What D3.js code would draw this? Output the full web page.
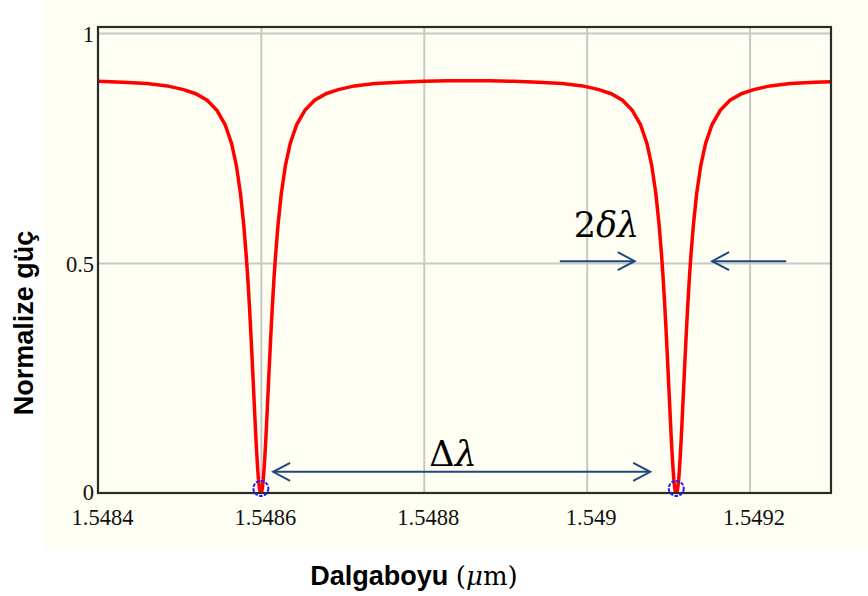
<!DOCTYPE html>
<html><head><meta charset="utf-8">
<script src="https://cdn.jsdelivr.net/npm/d3@7"></script>
<style>body{margin:0;background:#fff}svg{display:block}</style>
</head><body>
<svg id="c" width="868" height="596"></svg>
<script>
const wavelength = [
1.548400,1.548430,1.548460,1.548485,1.548505,1.548520,1.548534,1.548546,1.548556,1.548564,
1.548570,1.548575,1.548579,1.548582,1.548584,1.548586,1.548588,1.548590,1.548592,1.548593,
1.548594,1.548595,1.548596,1.548597,1.548598,1.548599,1.548600,1.548601,1.548602,1.548603,
1.548604,1.548605,1.548606,1.548607,1.548608,1.548610,1.548612,1.548614,1.548616,1.548618,
1.548621,1.548625,1.548630,1.548636,1.548644,1.548654,1.548666,1.548680,1.548695,1.548715,
1.548740,1.548770,1.548800,1.548830,1.548855,1.548880,1.548910,1.548940,1.548970,1.548995,
1.549015,1.549030,1.549044,1.549056,1.549066,1.549074,1.549080,1.549085,1.549089,1.549092,
1.549094,1.549096,1.549098,1.549100,1.549102,1.549103,1.549104,1.549105,1.549106,1.549107,
1.549108,1.549109,1.549110,1.549111,1.549112,1.549113,1.549114,1.549115,1.549116,1.549117,
1.549118,1.549120,1.549122,1.549124,1.549126,1.549128,1.549131,1.549135,1.549140,1.549146,
1.549154,1.549164,1.549176,1.549190,1.549205,1.549225,1.549250,1.549280,1.549300];
const power = [
0.895,0.893,0.890,0.885,0.877,0.868,0.854,0.832,0.801,0.760,
0.711,0.650,0.582,0.516,0.464,0.404,0.336,0.263,0.188,0.151,
0.115,0.083,0.054,0.030,0.013,0.002,0.000,0.002,0.013,0.030,
0.054,0.083,0.115,0.151,0.188,0.263,0.336,0.404,0.464,0.516,
0.582,0.650,0.711,0.760,0.801,0.832,0.854,0.868,0.877,0.885,
0.890,0.893,0.895,0.896,0.896,0.896,0.895,0.893,0.890,0.885,
0.877,0.868,0.854,0.832,0.801,0.760,0.711,0.650,0.582,0.516,
0.464,0.404,0.336,0.263,0.188,0.151,0.115,0.083,0.054,0.030,
0.013,0.002,0.000,0.002,0.013,0.030,0.054,0.083,0.115,0.151,
0.188,0.263,0.336,0.404,0.464,0.516,0.582,0.650,0.711,0.760,
0.801,0.832,0.854,0.868,0.877,0.885,0.890,0.893,0.894];
const xTicks = [1.5484,1.5486,1.5488,1.549,1.5492];
const xTickLabels = ["1.5484","1.5486","1.5488","1.549","1.5492"];
const yTicks = [0,0.5,1];
const yTickLabels = ["0","0.5","1"];
const dipWavelength = [1.5486,1.54911];
const dipPower = [0.01,0.01];

const svg = d3.select("#c");
svg.append("rect").attr("x",45).attr("y",0).attr("width",823).attr("height",551).attr("fill","#fffef2");

const L=98,R=831,T=27,B=493;
const x = d3.scaleLinear().domain([1.5484,1.5493]).range([L,R]);
const y = d3.scaleLinear().domain([0,1]).range([B,33]);

// grid
svg.append("g").attr("transform",`translate(0,${B})`)
  .call(d3.axisBottom(x).tickValues(xTicks.slice(1)).tickSize(-(B-T)).tickFormat(""))
  .call(g=>{g.select(".domain").remove();g.selectAll("line").attr("stroke","#c8c8c8").attr("stroke-width",2);});
svg.append("g").attr("transform",`translate(${L},0)`)
  .call(d3.axisLeft(y).tickValues(yTicks.slice(1)).tickSize(-(R-L)).tickFormat(""))
  .call(g=>{g.select(".domain").remove();g.selectAll("line").attr("stroke","#c8c8c8").attr("stroke-width",2);});

// curve
svg.append("clipPath").attr("id","clip").append("rect").attr("x",L).attr("y",T).attr("width",R-L).attr("height",B-T);
const line = d3.line().x((d,i)=>x(wavelength[i])).y((d,i)=>y(power[i]));
svg.append("path").datum(power).attr("d",line).attr("fill","none").attr("stroke","#ff0000")
  .attr("stroke-width",3.5).attr("stroke-linejoin","miter").attr("clip-path","url(#clip)");

// frame
svg.append("rect").attr("x",L).attr("y",T).attr("width",R-L).attr("height",B-T)
  .attr("fill","none").attr("stroke","#2b2b2b").attr("stroke-width",2.2);

// dip markers
svg.selectAll("circle.dip").data(dipWavelength).join("circle").attr("class","dip")
  .attr("cx",d=>x(d)).attr("cy",(d,i)=>y(dipPower[i])).attr("r",7.5)
  .attr("fill","none").attr("stroke","#1a1aff").attr("stroke-width",2).attr("stroke-dasharray","3.5,1.5");

// tick labels
const tickFont = "'Liberation Serif','Times New Roman',serif";
const mathFont = "'DejaVu Serif',serif";
svg.append("g").attr("transform",`translate(0,${B})`)
  .call(d3.axisBottom(x).tickValues(xTicks).tickSize(0).tickFormat((d,i)=>xTickLabels[i]))
  .call(g=>{g.select(".domain").remove();
    g.selectAll("text").attr("y",16).attr("dx",4).attr("font-family",tickFont).attr("font-size",22.5).attr("fill","#111");});
svg.append("g").attr("transform",`translate(${L},0)`)
  .call(d3.axisLeft(y).tickValues(yTicks).tickSize(0).tickFormat((d,i)=>yTickLabels[i]))
  .call(g=>{g.select(".domain").remove();
    g.selectAll("text").attr("x",-4).attr("y",(d)=>d===0?-1:1).attr("font-family",tickFont).attr("font-size",22.5).attr("fill","#111");});

// axis titles
svg.append("text").attr("transform","translate(33,323) rotate(-90)").attr("text-anchor","middle")
  .attr("font-family","'Liberation Sans',Arial,sans-serif").attr("font-weight","bold").attr("font-size",27)
  .attr("fill","#000").text("Normalize güç");
const xt = svg.append("text").attr("x",414).attr("y",585).attr("text-anchor","middle")
  .attr("font-family","'Liberation Sans',Arial,sans-serif").attr("font-weight","bold").attr("font-size",27).attr("fill","#000");
xt.append("tspan").text("Dalgaboyu ");
xt.append("tspan").attr("font-family",mathFont).attr("font-weight","normal").attr("font-size",26).text("(");
xt.append("tspan").attr("font-family",mathFont).attr("font-weight","normal").attr("font-size",26).attr("font-style","italic").text("μ");
xt.append("tspan").attr("font-family",mathFont).attr("font-weight","normal").attr("font-size",26).text("m)");

// annotations
const annColor = "#1f497d";
const arrows = [
  {x1:1.548615, x2:1.549078, v:0.046, heads:[-1,1]},
  {x1:1.548967, x2:1.549059, v:0.504, heads:[1]},
  {x1:1.549245, x2:1.549154, v:0.504, heads:[1]}
];
arrows.forEach(a=>{
  const px1=x(a.x1), px2=x(a.x2), py=y(a.v);
  svg.append("line").attr("x1",px1).attr("x2",px2).attr("y1",py).attr("y2",py)
    .attr("stroke",annColor).attr("stroke-width",2);
  const dir = Math.sign(px2-px1);
  a.heads.forEach(h=>{
    const tx = h>0?px2:px1, d = h>0?dir:-dir;
    svg.append("path").attr("d",`M${tx-d*17},${py-9}L${tx},${py}L${tx-d*17},${py+9}`)
      .attr("fill","none").attr("stroke",annColor).attr("stroke-width",2);
  });
});
const t1 = svg.append("text").attr("x",x(1.548836)).attr("y",y(0.059)).attr("text-anchor","middle")
  .attr("font-family",mathFont).attr("font-size",35).attr("fill","#000");
t1.append("tspan").text("Δ");
t1.append("tspan").attr("font-style","italic").text("λ");
const t2 = svg.append("text").attr("x",x(1.548984)).attr("y",y(0.556)).attr("text-anchor","start")
  .attr("font-family",mathFont).attr("font-size",35).attr("fill","#000");
t2.append("tspan").text("2");
t2.append("tspan").attr("font-style","italic").text("δλ");
</script>
</body></html>
